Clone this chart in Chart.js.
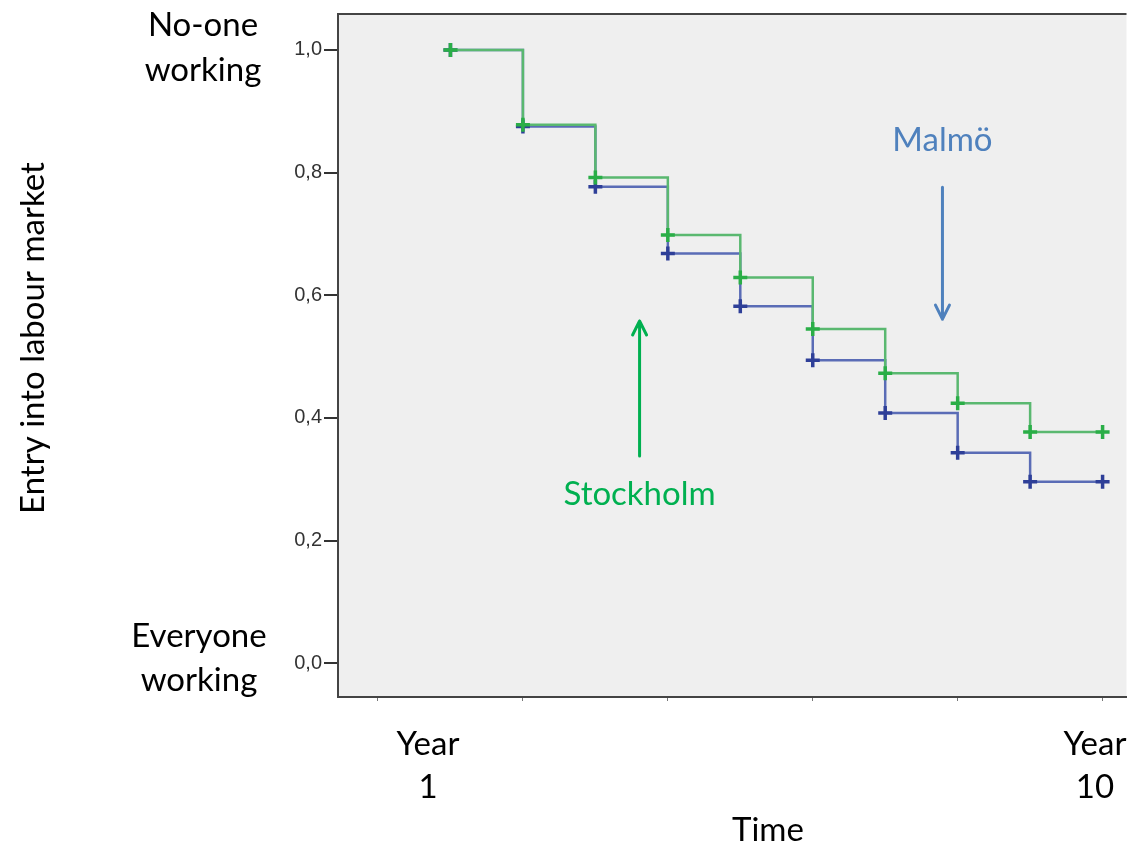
<!DOCTYPE html>
<html>
<head>
<meta charset="utf-8">
<script src="https://cdn.jsdelivr.net/npm/chart.js@4"></script>
<style>
  html, body { margin: 0; padding: 0; background: #fff; overflow: hidden; }
  #wrap { width: 1127px; height: 844px; overflow: hidden; }
</style>
</head>
<body>
<div id="wrap"><canvas id="kmChart" width="1137" height="844"></canvas></div>
<script>
// time points (years) and survival values
const years = [1, 2, 3, 4, 5, 6, 7, 8, 9, 10];
const stockholm = [1.0, 0.878, 0.792, 0.698, 0.629, 0.545, 0.473, 0.424, 0.377, 0.377];
const malmo = [1.0, 0.875, 0.777, 0.668, 0.582, 0.494, 0.408, 0.343, 0.296, 0.296];
const yTicks = [0, 0.2, 0.4, 0.6, 0.8, 1.0];
const xTicks = [0, 2, 4, 6, 8, 10];

const toPts = (vals) => years.map((x, i) => ({ x: x, y: vals[i] }));

const FONT = 'Lato, "Open Sans", sans-serif';

// background, frame and the slide annotations
const decor = {
  id: 'decor',
  beforeDraw(chart) {
    const { ctx, chartArea: a } = chart;
    ctx.save();
    ctx.fillStyle = '#efefef';
    ctx.fillRect(a.left, a.top, a.right - a.left, a.bottom - a.top);
    ctx.restore();
  },
  afterDraw(chart) {
    const { ctx, chartArea: a, scales } = chart;
    ctx.save();
    // top frame line
    ctx.strokeStyle = '#444';
    ctx.lineWidth = 2;
    ctx.beginPath();
    ctx.moveTo(a.left - 1, a.top);
    ctx.lineTo(a.right, a.top);
    ctx.stroke();

    ctx.fillStyle = '#000';
    ctx.textAlign = 'center';
    ctx.textBaseline = 'middle';
    ctx.font = '33px ' + FONT;
    ctx.fillText('No-one', 203, 25);
    ctx.fillText('working', 203, 70);
    ctx.fillText('Everyone', 199, 636);
    ctx.fillText('working', 199, 680);
    ctx.fillText('Year', 428, 744);
    ctx.fillText('1', 428, 787);
    ctx.fillText('Year', 1095, 744);
    ctx.fillText('10', 1095, 787);
    ctx.fillText('Time', 768, 830);

    ctx.save();
    ctx.translate(33, 338);
    ctx.rotate(-Math.PI / 2);
    ctx.fillText('Entry into labour market', 0, 0);
    ctx.restore();

    // labels with arrows
    const xs = scales.x, ys = scales.y;
    const arrow = (x, y0, y1, color) => {
      const dir = y1 > y0 ? 1 : -1;
      ctx.strokeStyle = color;
      ctx.lineWidth = 3;
      ctx.lineCap = 'round';
      ctx.lineJoin = 'round';
      ctx.beginPath();
      ctx.moveTo(x, y0);
      ctx.lineTo(x, y1);
      ctx.moveTo(x - 7, y1 - dir * 14);
      ctx.lineTo(x, y1);
      ctx.lineTo(x + 7, y1 - dir * 14);
      ctx.stroke();
    };
    const mx = xs.getPixelForValue(7.79);
    ctx.fillStyle = '#4f81bd';
    ctx.fillText('Malmö', mx, ys.getPixelForValue(0.853));
    arrow(mx, ys.getPixelForValue(0.776), ys.getPixelForValue(0.561), '#4f81bd');

    const sx = xs.getPixelForValue(3.61);
    ctx.fillStyle = '#00b050';
    ctx.fillText('Stockholm', sx, ys.getPixelForValue(0.275));
    arrow(sx, ys.getPixelForValue(0.338), ys.getPixelForValue(0.558), '#00b050');
    ctx.restore();
  }
};

const ctx = document.querySelector('#kmChart').getContext('2d');
const kmChart = new Chart(ctx, {
  type: 'line',
  data: {
    datasets: [{
      label: 'Stockholm',
      data: toPts(stockholm),
      stepped: true,
      borderColor: '#5ab870',
      borderWidth: 2.5,
      pointStyle: 'cross',
      pointRadius: 7,
      pointBorderWidth: 3.5,
      pointBorderColor: '#2aae47',
      pointBackgroundColor: '#2aae47',
      fill: false
    }, {
      label: 'Malmö',
      data: toPts(malmo),
      stepped: true,
      borderColor: '#5a6cb6',
      borderWidth: 2.5,
      pointStyle: 'cross',
      pointRadius: 7,
      pointBorderWidth: 3.5,
      pointBorderColor: '#2e3f98',
      pointBackgroundColor: '#2e3f98',
      fill: false
    }]
  },
  options: {
    responsive: false,
    animation: false,
    layout: { padding: { left: 0, top: 12, right: 0, bottom: 0 } },
    plugins: {
      legend: { display: false },
      tooltip: { enabled: false }
    },
    scales: {
      x: {
        type: 'linear',
        min: -0.552,
        max: 10.33,
        afterBuildTicks: (axis) => { axis.ticks = xTicks.map(v => ({ value: v })); },
        afterFit: (axis) => { axis.height = 147; },
        grid: { drawOnChartArea: false, drawTicks: true, tickLength: 4, color: '#777', lineWidth: 1 },
        border: { color: '#444', width: 2 },
        ticks: { display: false }
      },
      y: {
        min: -0.055,
        max: 1.0585,
        afterBuildTicks: (axis) => { axis.ticks = yTicks.map(v => ({ value: v })); },
        afterFit: (axis) => { axis.width = 338; },
        grid: { drawOnChartArea: false, drawTicks: true, tickLength: 14, color: '#333', lineWidth: 2 },
        border: { color: '#444', width: 2 },
        ticks: {
          color: '#333',
          padding: 2,
          font: { family: 'Arial, "Liberation Sans", sans-serif', size: 20 },
          callback: (v) => v.toFixed(1).replace('.', ',')
        }
      }
    }
  },
  plugins: [decor]
});
</script>
</body>
</html>
